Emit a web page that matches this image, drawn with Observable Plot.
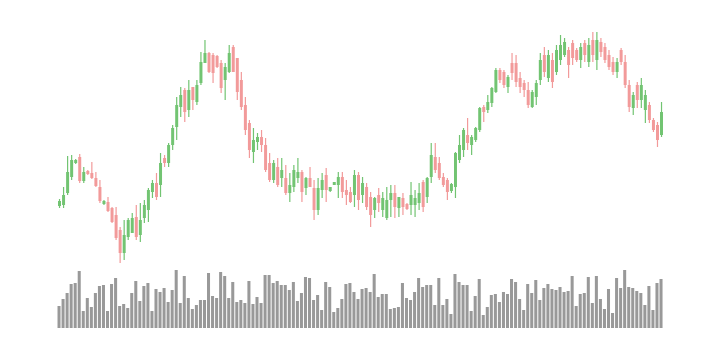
<!DOCTYPE html>
<html>
<head>
<meta charset="utf-8">
<script src="https://cdn.jsdelivr.net/npm/d3@7"></script>
<script src="https://cdn.jsdelivr.net/npm/@observablehq/plot@0.6"></script>
<style>
  html, body { margin: 0; padding: 0; background: #fff; }
  #chart { width: 720px; height: 360px; overflow: hidden; }
  #chart svg { display: block; }
</style>
</head>
<body>
<div id="chart"></div>
<script>
const open = [94,95,107,123,137,143,119,129,127,122,113,96,98,92,85,70,47,63,67,83,65,82,90,108,117,115,142,137,155,173,193,210,190,213,198,217,237,247,245,244,237,220,228,253,242,220,195,177,148,158,163,155,137,120,133,122,122,107,113,122,128,112,122,112,90,110,125,109,115,115,123,110,108,105,125,105,113,103,90,105,90,82,100,107,92,102,96,95,95,97,118,103,123,143,137,123,120,109,113,140,150,165,155,160,170,193,190,197,208,230,228,213,237,237,222,217,210,193,203,220,245,222,240,228,240,245,250,257,250,240,257,238,260,240,258,253,245,238,228,250,238,215,192,215,200,190,195,180,175,165];
const high = [101,113,144,145,141,146,133,130,138,128,120,100,103,93,93,73,80,82,87,95,97,100,112,120,127,147,145,157,175,203,213,212,220,213,220,248,260,248,247,245,240,237,255,255,242,228,203,180,172,167,170,162,147,140,142,142,135,127,135,142,130,123,133,120,122,127,132,113,118,128,128,120,113,130,128,123,117,108,103,112,108,113,115,115,103,107,97,118,110,117,120,123,157,157,143,127,122,117,148,165,172,182,165,173,193,195,205,213,232,232,230,225,247,245,228,220,218,210,220,247,253,250,247,255,265,262,253,260,252,257,260,262,268,268,262,257,250,243,242,252,245,220,208,218,222,210,198,182,178,198];
const low = [92,92,105,120,136,117,117,125,121,113,97,95,88,77,60,37,40,60,67,60,58,77,78,102,100,103,133,133,150,160,183,178,183,190,195,215,237,227,217,232,207,200,227,228,200,190,165,142,137,150,148,128,118,117,113,113,105,98,108,117,98,105,113,80,85,102,98,108,115,102,102,95,97,93,90,97,90,73,82,88,83,80,83,82,83,85,90,85,83,90,88,97,117,127,120,113,100,107,102,137,143,150,145,158,168,178,187,193,207,217,212,207,220,213,207,203,192,192,195,215,223,218,212,225,235,243,222,235,238,232,238,233,238,230,243,237,230,225,222,235,212,188,185,192,192,177,177,168,153,163];
const close = [99,105,128,140,140,119,128,126,122,114,99,99,89,78,62,47,65,80,82,63,80,95,110,117,103,137,137,155,172,195,205,188,210,200,215,238,247,228,227,233,212,233,247,228,208,193,170,150,160,163,155,130,120,137,115,130,107,115,130,128,108,122,113,90,112,120,110,113,118,123,108,105,98,125,100,117,93,85,102,97,102,100,107,93,103,93,91,105,102,107,93,122,145,130,122,115,108,116,147,155,170,157,163,172,192,188,198,212,230,220,215,223,227,218,213,210,195,208,217,240,228,245,218,250,255,258,235,242,240,253,245,255,245,260,248,240,233,228,238,238,215,193,205,200,215,205,180,170,160,188];
const volume = [22,29,35,44,45,57,17,30,21,35,42,43,17,44,50,22,24,20,35,47,27,42,45,17,39,36,40,26,38,59,25,52,30,19,23,28,28,55,
  32,30,56,52,30,46,26,28,25,47,24,31,25,53,53,45,47,43,43,38,46,27,35,51,50,28,33,18,46,41,16,20,29,44,45,36,29,
  39,40,36,54,31,34,34,19,20,21,45,30,28,36,50,41,43,43,23,50,23,29,14,54,46,43,43,17,32,49,13,21,33,34,26,36,34,
  49,46,29,18,44,35,48,28,40,44,39,38,41,36,37,52,22,34,35,51,25,52,29,19,39,15,50,40,58,41,40,37,35,23,42,18,45,49];

const UP = "#72c472", DOWN = "#f29a9a", VOL = "#999999";
const data = open.map((o, i) => ({i, open: o, high: high[i], low: low[i], close: close[i], volume: volume[i]}));
const idx = data.map(d => d.i);
const col = d => d.close >= d.open ? UP : DOWN;
const xOpts = {type: "band", domain: idx, padding: 0.25, round: false, axis: null};
const ML = 56.5, MR = 56.45;

const pricePlot = Plot.plot({
  width: 720, height: 270,
  marginTop: 30, marginBottom: 0, marginLeft: ML, marginRight: MR,
  x: xOpts,
  y: {domain: [30, 270], axis: null},
  marks: [
    Plot.ruleX(data, {x: "i", y1: "low", y2: "high", stroke: col, strokeWidth: 1.2}),
    Plot.ruleX(data, {x: "i", y1: "open", y2: "close", stroke: col, strokeWidth: 3})
  ]
});

const volumePlot = Plot.plot({
  width: 720, height: 90,
  marginTop: 0, marginBottom: 32, marginLeft: ML, marginRight: MR,
  x: xOpts,
  y: {domain: [0, 58], axis: null},
  marks: [
    Plot.barY(data, {x: "i", y: "volume", fill: VOL})
  ]
});

const el = document.getElementById("chart");
el.appendChild(pricePlot);
el.appendChild(volumePlot);
</script>
</body>
</html>
